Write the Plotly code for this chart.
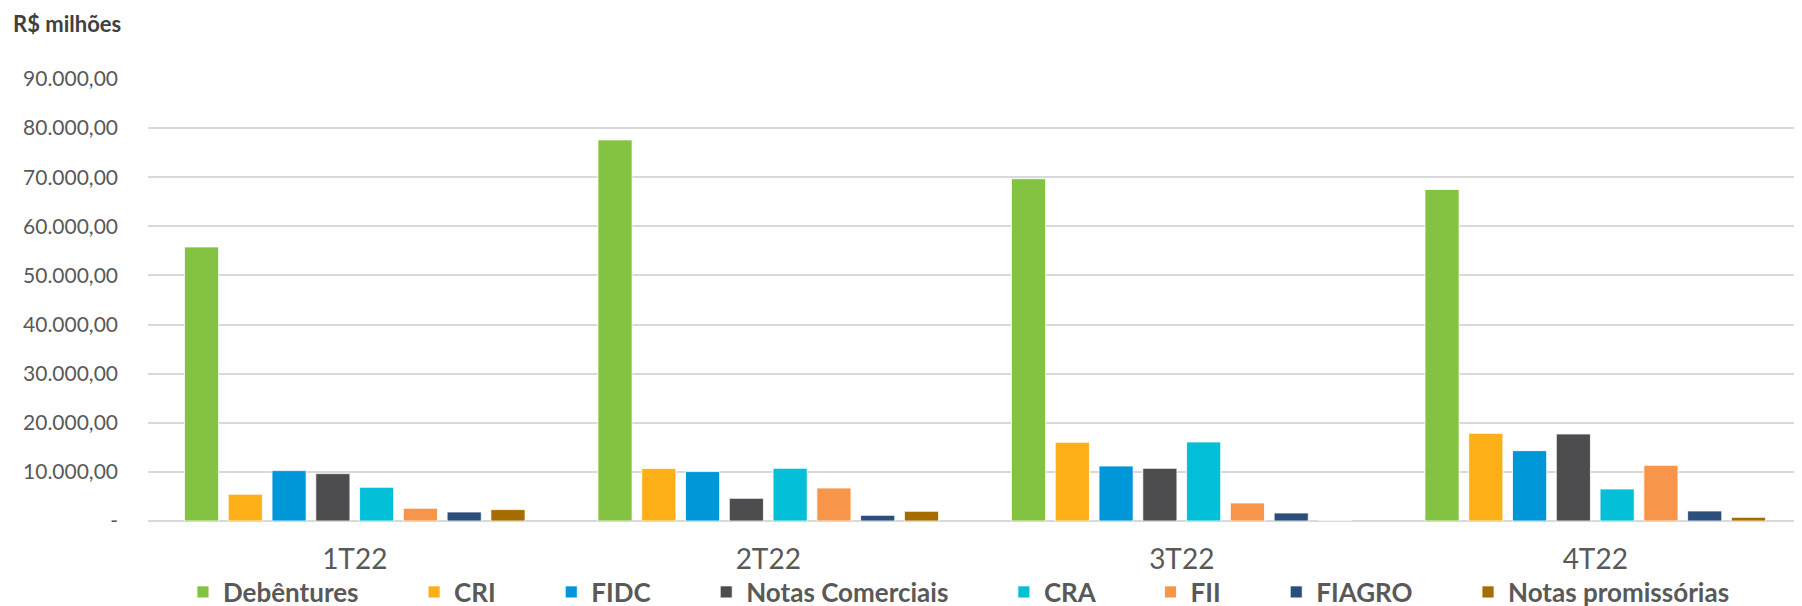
import plotly.graph_objects as go

quarters = ["1T22", "2T22", "3T22", "4T22"]

series_names = ["Debêntures", "CRI", "FIDC", "Notas Comerciais", "CRA", "FII", "FIAGRO", "Notas promissórias"]

debentures = [55800, 77600, 69700, 67500]
cri = [5450, 10670, 16030, 17860]
fidc = [10260, 10060, 11200, 14320]
notas_comerciais = [9650, 4620, 10730, 17720]
cra = [6860, 10730, 16090, 6520]
fii = [2590, 6720, 3670, 11340]
fiagro = [1830, 1160, 1630, 2040]
notas_promissorias = [2320, 1980, 0, 750]

series_values = [debentures, cri, fidc, notas_comerciais, cra, fii, fiagro, notas_promissorias]

colors = ["#84C242", "#FCAF17", "#0097D8", "#4D4D4F", "#03BFD7", "#F7964A", "#2B4F7A", "#A56C00"]

y_tick_vals = [0, 10000, 20000, 30000, 40000, 50000, 60000, 70000, 80000, 90000]
y_tick_text = ["-", "10.000,00", "20.000,00", "30.000,00", "40.000,00", "50.000,00",
               "60.000,00", "70.000,00", "80.000,00", "90.000,00"]

FONT = "Lato, 'Open Sans', sans-serif"
PAD = "\u00a0" * 8

fig = go.Figure()
for name, vals, col in zip(series_names, series_values, colors):
    fig.add_trace(go.Bar(
        x=quarters, y=vals, name=name + PAD,
        marker=dict(color=col, line=dict(color="rgba(255,255,255,0.8)", width=1)),
    ))

fig.update_layout(
    width=1802, height=606,
    margin=dict(l=140, r=8, t=71, b=93, autoexpand=False),
    paper_bgcolor="white", plot_bgcolor="white",
    barmode="group", bargap=0.153, bargroupgap=0.22,
    font=dict(family=FONT, color="#595959"),
    title=dict(text="<b>R$ milhões</b>", x=0.0028, xanchor="left", y=0.9736, yanchor="middle",
               font=dict(family=FONT, size=22, color="#404040")),
    legend=dict(orientation="h", xref="container", yref="container",
                x=0.5416, xanchor="center", y=0.0363, yanchor="middle",
                font=dict(family=FONT, size=26, color="#595959", weight="bold"),
                itemclick=False, bgcolor="rgba(0,0,0,0)"),
    showlegend=True,
)
fig.update_xaxes(showgrid=False, showline=False, ticks="outside", ticklen=13, tickcolor="rgba(0,0,0,0)",
                 tickfont=dict(family=FONT, size=28, color="#595959"))
fig.update_yaxes(range=[0, 90000], tickvals=y_tick_vals, ticktext=y_tick_text,
                 showgrid=True, gridcolor="#D9D9D9", gridwidth=1.5,
                 zeroline=True, zerolinecolor="#D9D9D9", zerolinewidth=1.5,
                 showline=False, ticklabelstandoff=29,
                 tickfont=dict(family=FONT, size=21, color="#595959"))

fig.write_html("out.html")
